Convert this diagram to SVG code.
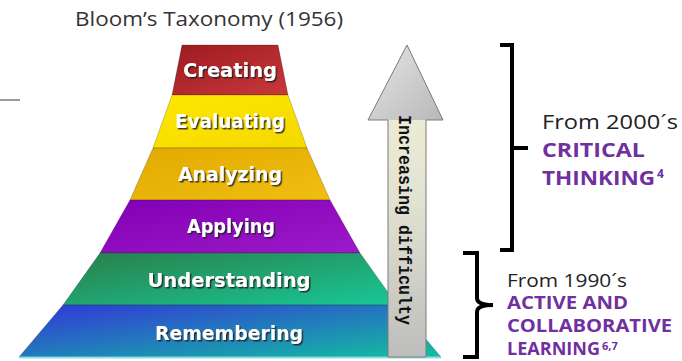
<svg xmlns="http://www.w3.org/2000/svg" width="682" height="361" viewBox="0 0 682 361">
  <defs>
    <style>
      .title { font-family: "Open Sans", "Liberation Sans", sans-serif; font-size: 20px; fill: #333; }
      .lvl { font-family: "DejaVu Sans", "Liberation Sans", sans-serif; font-weight: bold; font-size: 20px; fill: #fff; text-anchor: middle; filter: url(#shadow); }
      .arrowtxt { font-family: "Liberation Mono", "DejaVu Sans Mono", monospace; font-weight: bold; font-size: 18px; fill: #111; text-anchor: middle; }
      .era { font-family: "Open Sans", "Liberation Sans", sans-serif; fill: #222; }
      .hl { font-family: "Open Sans", "Liberation Sans", sans-serif; font-weight: bold; fill: #7030a0; }
      .bracket { fill: none; stroke: #000; stroke-width: 4; }
      .band { stroke: rgba(0,0,0,0.25); stroke-width: 0.8; }
    </style>
    <filter id="shadow" x="-10%" y="-20%" width="130%" height="160%">
      <feDropShadow dx="1.5" dy="1.5" stdDeviation="0.6" flood-color="#1a1a1a" flood-opacity="0.85"/>
    </filter>
    <linearGradient id="gCreate" x1="0" y1="0" x2="1" y2="1">
      <stop offset="0" stop-color="#9e1a20"/>
      <stop offset="1" stop-color="#c8393b"/>
    </linearGradient>
    <linearGradient id="gEval" x1="0" y1="0" x2="1" y2="1">
      <stop offset="0" stop-color="#fde800"/>
      <stop offset="1" stop-color="#f4d800"/>
    </linearGradient>
    <linearGradient id="gAnal" x1="0" y1="0" x2="1" y2="1">
      <stop offset="0" stop-color="#e2aa00"/>
      <stop offset="1" stop-color="#f0be10"/>
    </linearGradient>
    <linearGradient id="gApply" x1="0" y1="0" x2="1" y2="1">
      <stop offset="0" stop-color="#8200b4"/>
      <stop offset="1" stop-color="#9c1ac8"/>
    </linearGradient>
    <linearGradient id="gUnder" x1="0" y1="0" x2="1" y2="1">
      <stop offset="0" stop-color="#2a7e48"/>
      <stop offset="1" stop-color="#18c898"/>
    </linearGradient>
    <linearGradient id="gRemem" x1="0" y1="0" x2="1" y2="1">
      <stop offset="0" stop-color="#3236d8"/>
      <stop offset="1" stop-color="#12c0a0"/>
    </linearGradient>
    <linearGradient id="gShaft" x1="0" y1="0" x2="0" y2="1">
      <stop offset="0" stop-color="#f4f4d6"/>
      <stop offset="0.5" stop-color="#e2e2d2"/>
      <stop offset="1" stop-color="#bdbdbd"/>
    </linearGradient>
    <linearGradient id="gHead" x1="0" y1="0" x2="1" y2="1">
      <stop offset="0" stop-color="#e6e6e6"/>
      <stop offset="1" stop-color="#b8b8b8"/>
    </linearGradient>
  </defs>

  <!-- heading -->
  <text class="title" x="75" y="26" textLength="268" lengthAdjust="spacingAndGlyphs">Bloom’s Taxonomy (1956)</text>
  <line x1="0" y1="100" x2="20" y2="100" stroke="#9a9a9a" stroke-width="2"/>

  <!-- pyramid levels, top to bottom -->
  <g id="creating">
    <path class="band" d="M182,45 L278,45 L288,95 L172,95 Z" fill="url(#gCreate)"/>
    <text class="lvl" x="230" y="77" textLength="94" lengthAdjust="spacingAndGlyphs">Creating</text>
  </g>
  <g id="evaluating">
    <path class="band" d="M172,95 L288,95 L307,148 L153,148 Z" fill="url(#gEval)"/>
    <text class="lvl" x="230" y="128" textLength="110" lengthAdjust="spacingAndGlyphs">Evaluating</text>
  </g>
  <g id="analyzing">
    <path class="band" d="M153,148 L307,148 L330,200 L130,200 Z" fill="url(#gAnal)"/>
    <text class="lvl" x="230" y="181" textLength="104" lengthAdjust="spacingAndGlyphs">Analyzing</text>
  </g>
  <g id="applying">
    <path class="band" d="M130,200 L330,200 L360,253 L100,253 Z" fill="url(#gApply)"/>
    <text class="lvl" x="231" y="233" textLength="88" lengthAdjust="spacingAndGlyphs">Applying</text>
  </g>
  <g id="understanding">
    <path class="band" d="M100,253 L360,253 L397,305 L63,305 Z" fill="url(#gUnder)"/>
    <text class="lvl" x="229" y="287" textLength="163" lengthAdjust="spacingAndGlyphs">Understanding</text>
  </g>
  <g id="remembering">
    <path class="band" d="M63,305 L397,305 L441,357 L19,357 Z" fill="url(#gRemem)"/>
    <line x1="19" y1="357.5" x2="441" y2="357.5" stroke="#86e2ea" stroke-width="2"/>
    <text class="lvl" x="229" y="340" textLength="148" lengthAdjust="spacingAndGlyphs">Remembering</text>
  </g>

  <!-- difficulty arrow -->
  <g id="difficulty-arrow">
    <path d="M407,45 L443,120 L426,120 L426,357 L388,357 L388,120 L368,120 Z" fill="url(#gShaft)"/>
    <path d="M407,45 L443,120 L368,120 Z" fill="url(#gHead)"/>
    <path d="M407,45 L443,120 L426,120 L426,357 L388,357 L388,120 L368,120 Z" fill="none" stroke="#7a7a7a" stroke-width="1"/>
    <text class="arrowtxt" transform="translate(399,220) rotate(90)" x="0" y="0" textLength="210" lengthAdjust="spacingAndGlyphs">Increasing difficulty</text>
  </g>

  <!-- brackets -->
  <g id="connectors">
    <path class="bracket" d="M500,45 H512 V250 H500 M512,148 H528"/>
    <path class="bracket" d="M463,253 H477 V298 Q477,305 493,305 Q477,305 477,312 V357 H463"/>
  </g>

  <!-- annotation: critical thinking -->
  <g id="critical-thinking">
    <text class="era" x="542" y="129" font-size="20" textLength="136" lengthAdjust="spacingAndGlyphs">From 2000´s</text>
    <text class="hl" x="542" y="157" font-size="19" textLength="103" lengthAdjust="spacingAndGlyphs">CRITICAL</text>
    <text class="hl" x="542" y="185" font-size="19" textLength="113" lengthAdjust="spacingAndGlyphs">THINKING</text>
    <text class="hl" x="657" y="178" font-size="12">4</text>
  </g>

  <!-- annotation: active and collaborative learning -->
  <g id="active-learning">
    <text class="era" x="507" y="287" font-size="18" textLength="120" lengthAdjust="spacingAndGlyphs">From 1990´s</text>
    <text class="hl" x="507" y="309" font-size="18" textLength="121" lengthAdjust="spacingAndGlyphs">ACTIVE AND</text>
    <text class="hl" x="507" y="332" font-size="18" textLength="165" lengthAdjust="spacingAndGlyphs">COLLABORATIVE</text>
    <text class="hl" x="507" y="355" font-size="18" textLength="93" lengthAdjust="spacingAndGlyphs">LEARNING</text>
    <text class="hl" x="602" y="350" font-size="11">6,7</text>
  </g>
</svg>
